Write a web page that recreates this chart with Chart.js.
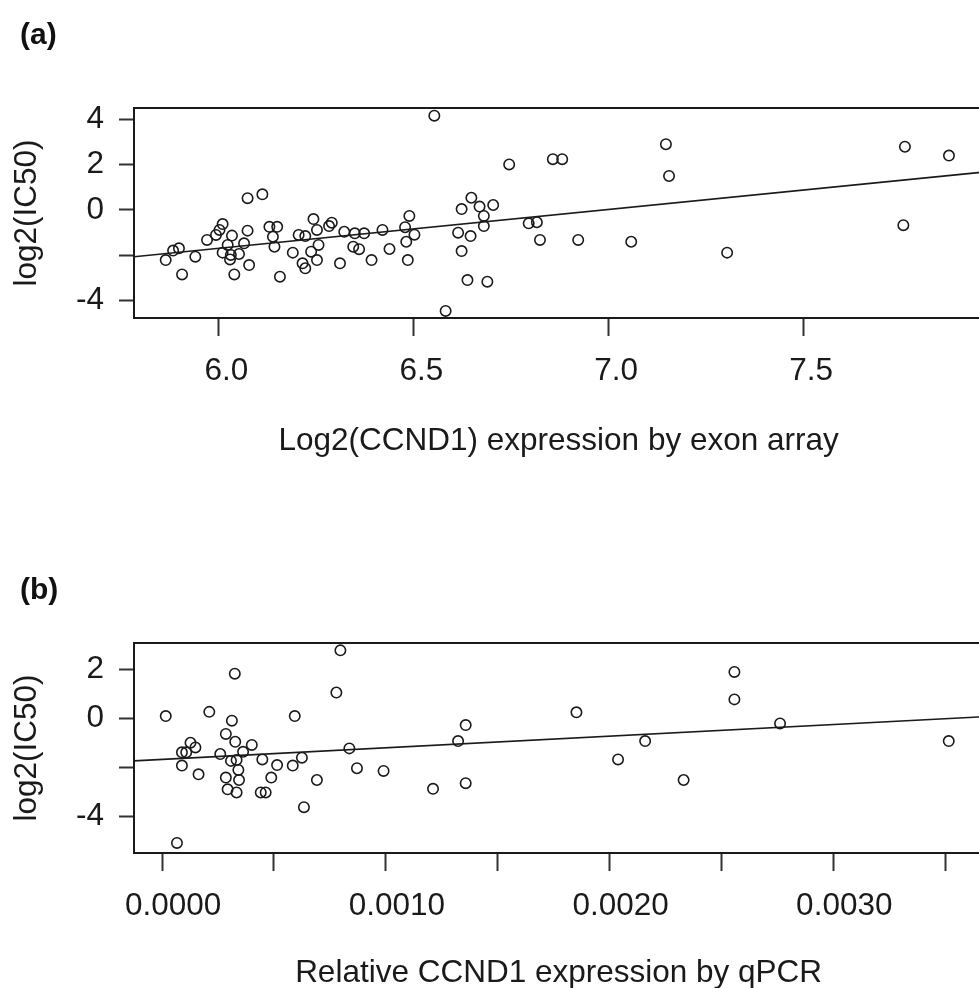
<!DOCTYPE html>
<html>
<head>
<meta charset="utf-8">
<script src="https://cdn.jsdelivr.net/npm/chart.js@4.4.0/dist/chart.umd.min.js"></script>
<style>
html, body { margin: 0; padding: 0; background: #fff; overflow: hidden; width: 979px; height: 988px; }
.panel { position: absolute; left: 0; }
.tag { position: absolute; left: 20px; font: bold 30px "Liberation Sans", Arial, sans-serif; line-height: 36px; color: #111; }
</style>
</head>
<body>
<canvas id="chartA" class="panel" width="990" height="494" style="top:0"></canvas>
<canvas id="chartB" class="panel" width="990" height="520" style="top:494px"></canvas>
<div class="tag" style="top:16px">(a)</div>
<div class="tag" style="top:571px">(b)</div>
<script>
// panel (a): exon array expression vs log2(IC50)
const exonX = [5.865,5.884,5.899,5.907,5.941,5.971,5.994,6.003,6.011,6.035,6.024,6.011,6.032,6.030,6.053,6.041,
  6.075,6.113,6.075,6.066,6.079,6.131,6.151,6.140,6.144,6.158,6.191,6.206,6.223,6.244,6.253,6.257,6.238,6.253,
  6.216,6.223,6.284,6.291,6.312,6.323,6.346,6.350,6.361,6.374,6.393,6.421,6.439,6.479,6.490,6.503,6.482,6.486,
  6.554,6.746,6.858,6.882,7.148,7.156,6.649,6.624,6.670,6.705,6.681,6.681,6.615,6.647,6.624,6.796,6.817,6.825,
  6.923,7.059,6.639,6.690,6.583,7.761,7.874,7.757,7.305];
const exonIC50 = [-2.21,-1.79,-1.69,-2.84,-2.06,-1.32,-1.10,-0.88,-0.62,-1.13,-1.54,-1.88,-1.98,-2.18,-1.94,-2.84,
  0.52,0.69,-0.91,-1.47,-2.43,-0.74,-0.74,-1.18,-1.62,-2.94,-1.88,-1.10,-1.15,-0.40,-0.88,-1.54,-1.84,-2.21,
  -2.35,-2.57,-0.71,-0.56,-2.35,-0.96,-1.62,-1.03,-1.73,-1.03,-2.21,-0.88,-1.72,-0.76,-0.26,-1.09,-1.40,-2.21,
  4.16,2.01,2.24,2.24,2.90,1.50,0.54,0.04,0.15,0.22,-0.26,-0.71,-1.00,-1.15,-1.81,-0.59,-0.54,-1.32,
  -1.32,-1.40,-3.09,-3.16,-4.45,2.79,2.40,-0.67,-1.88];
const fitA = { intercept: -11.97, slope: 1.713 };
const xTicksA = [6.0, 6.5, 7.0, 7.5];
const xLabelsA = ['6.0', '6.5', '7.0', '7.5'];
const yTicksA = [-4, -2, 0, 2, 4];
const yLabelsA = ['-4', '', '0', '2', '4'];

// panel (b): qPCR expression vs log2(IC50)
const qpcrX = [0.0000164,0.0000665,0.0000887,0.0000887,0.000108,0.000127,0.000149,0.000163,0.000211,0.000260,
  0.000285,0.000285,0.000293,0.000312,0.000325,0.000327,0.000308,0.000333,0.000341,0.000344,0.000333,0.000362,
  0.000401,0.000448,0.000488,0.000514,0.000441,0.000463,0.000593,0.000584,0.000625,0.000634,0.000692,0.000779,
  0.000797,0.000837,0.000871,0.000990,0.001211,0.001323,0.001357,0.001357,0.001852,0.002038,0.002159,0.002331,
  0.002558,0.002558,0.002762,0.003516];
const qpcrIC50 = [0.10,-5.08,-1.38,-1.92,-1.38,-0.99,-1.18,-2.28,0.27,-1.45,
  -0.63,-2.41,-2.89,-0.09,1.83,-0.95,-1.73,-1.69,-2.10,-2.51,-3.02,-1.36,
  -1.08,-1.67,-2.41,-1.90,-3.02,-3.02,0.10,-1.92,-1.60,-3.62,-2.51,1.06,
  2.78,-1.22,-2.03,-2.14,-2.87,-0.92,-0.27,-2.64,0.25,-1.67,-0.92,-2.51,
  1.90,0.78,-0.20,-0.92];
const fitB = { intercept: -1.67, slope: 473.8 };
const xTicksB = [0, 0.0005, 0.0010, 0.0015, 0.0020, 0.0025, 0.0030, 0.0035];
const xLabelsB = ['0.0000', '', '0.0010', '', '0.0020', '', '0.0030', ''];
const yTicksB = [-4, -2, 0, 2];
const yLabelsB = ['-4', '', '0', '2'];

const family = "'Liberation Sans', Arial, Helvetica, sans-serif";
const ink = '#1a1a1a';
const fontSize = 31.5;

// R style box around the plot region
const boxPlugin = {
  id: 'box',
  afterDatasetsDraw(chart) {
    const a = chart.chartArea, ctx = chart.ctx;
    ctx.save();
    ctx.strokeStyle = ink;
    ctx.lineWidth = 2;
    ctx.strokeRect(a.left, a.top, a.right - a.left, a.bottom - a.top);
    ctx.restore();
  }
};

function makePanel(id, xs, ys, fit, p) {
  const pts = xs.map((x, i) => ({ x: x, y: ys[i] }));
  const line = [p.xMin, p.xMax].map(x => ({ x: x, y: fit.intercept + fit.slope * x }));
  return new Chart(document.getElementById(id), {
    type: 'scatter',
    data: {
      datasets: [{
        data: line,
        showLine: true,
        borderColor: ink,
        borderWidth: 1.6,
        pointRadius: 0,
        order: 0
      }, {
        data: pts,
        pointRadius: 5.2,
        pointBorderWidth: 1.6,
        pointBorderColor: ink,
        pointBackgroundColor: 'rgba(0,0,0,0)',
        order: 1
      }]
    },
    options: {
      responsive: false,
      devicePixelRatio: 1,
      animation: false,
      events: [],
      layout: { padding: { top: p.top, left: 0, right: 0, bottom: 0 } },
      plugins: { legend: { display: false }, tooltip: { enabled: false } },
      scales: {
        x: {
          type: 'linear',
          min: p.xMin,
          max: p.xMax,
          afterBuildTicks: s => { s.ticks = p.xTicks.map(v => ({ value: v })); },
          afterFit: s => { s.height = p.xAxisH; },
          grid: { drawOnChartArea: false, drawTicks: true, tickLength: 18, tickWidth: 2, tickColor: '#333', color: '#333' },
          border: { display: false },
          ticks: {
            autoSkip: false, maxRotation: 0, padding: 16, color: ink,
            labelOffset: p.labelShift,
            font: { size: fontSize, family: family },
            callback: (v, i) => p.xLabels[i]
          },
          title: {
            display: true, text: p.xTitle, color: ink,
            font: { size: fontSize, family: family },
            padding: { top: 0, bottom: p.titlePad }
          }
        },
        y: {
          type: 'linear',
          min: p.yMin,
          max: p.yMax,
          afterBuildTicks: s => { s.ticks = p.yTicks.map(v => ({ value: v })); },
          afterFit: s => { s.width = 134; },
          grid: { drawOnChartArea: false, drawTicks: true, tickLength: 15, tickWidth: 2, tickColor: '#333', color: '#333' },
          border: { display: false },
          ticks: {
            autoSkip: false, padding: 15, color: ink,
            font: { size: fontSize, family: family },
            callback: (v, i) => p.yLabels[i]
          },
          title: {
            display: true, text: 'log2(IC50)', color: ink,
            font: { size: fontSize, family: family },
            padding: { top: 8, bottom: 0 }
          }
        }
      }
    },
    plugins: [boxPlugin]
  });
}

makePanel('chartA', exonX, exonIC50, fitA, {
  top: 108, xAxisH: 176, titlePad: 34, labelShift: 8,
  xMin: 5.7837, xMax: 7.9618, yMin: -4.763, yMax: 4.498,
  xTicks: xTicksA, xLabels: xLabelsA, yTicks: yTicksA, yLabels: yLabelsA,
  xTitle: 'Log2(CCND1) expression by exon array'
});

makePanel('chartB', qpcrX, qpcrIC50, fitB, {
  top: 149, xAxisH: 161, titlePad: 22, labelShift: 11,
  xMin: -0.0001255, xMax: 0.00367, yMin: -5.49, yMax: 3.081,
  xTicks: xTicksB, xLabels: xLabelsB, yTicks: yTicksB, yLabels: yLabelsB,
  xTitle: 'Relative CCND1 expression by qPCR'
});
</script>
</body>
</html>
